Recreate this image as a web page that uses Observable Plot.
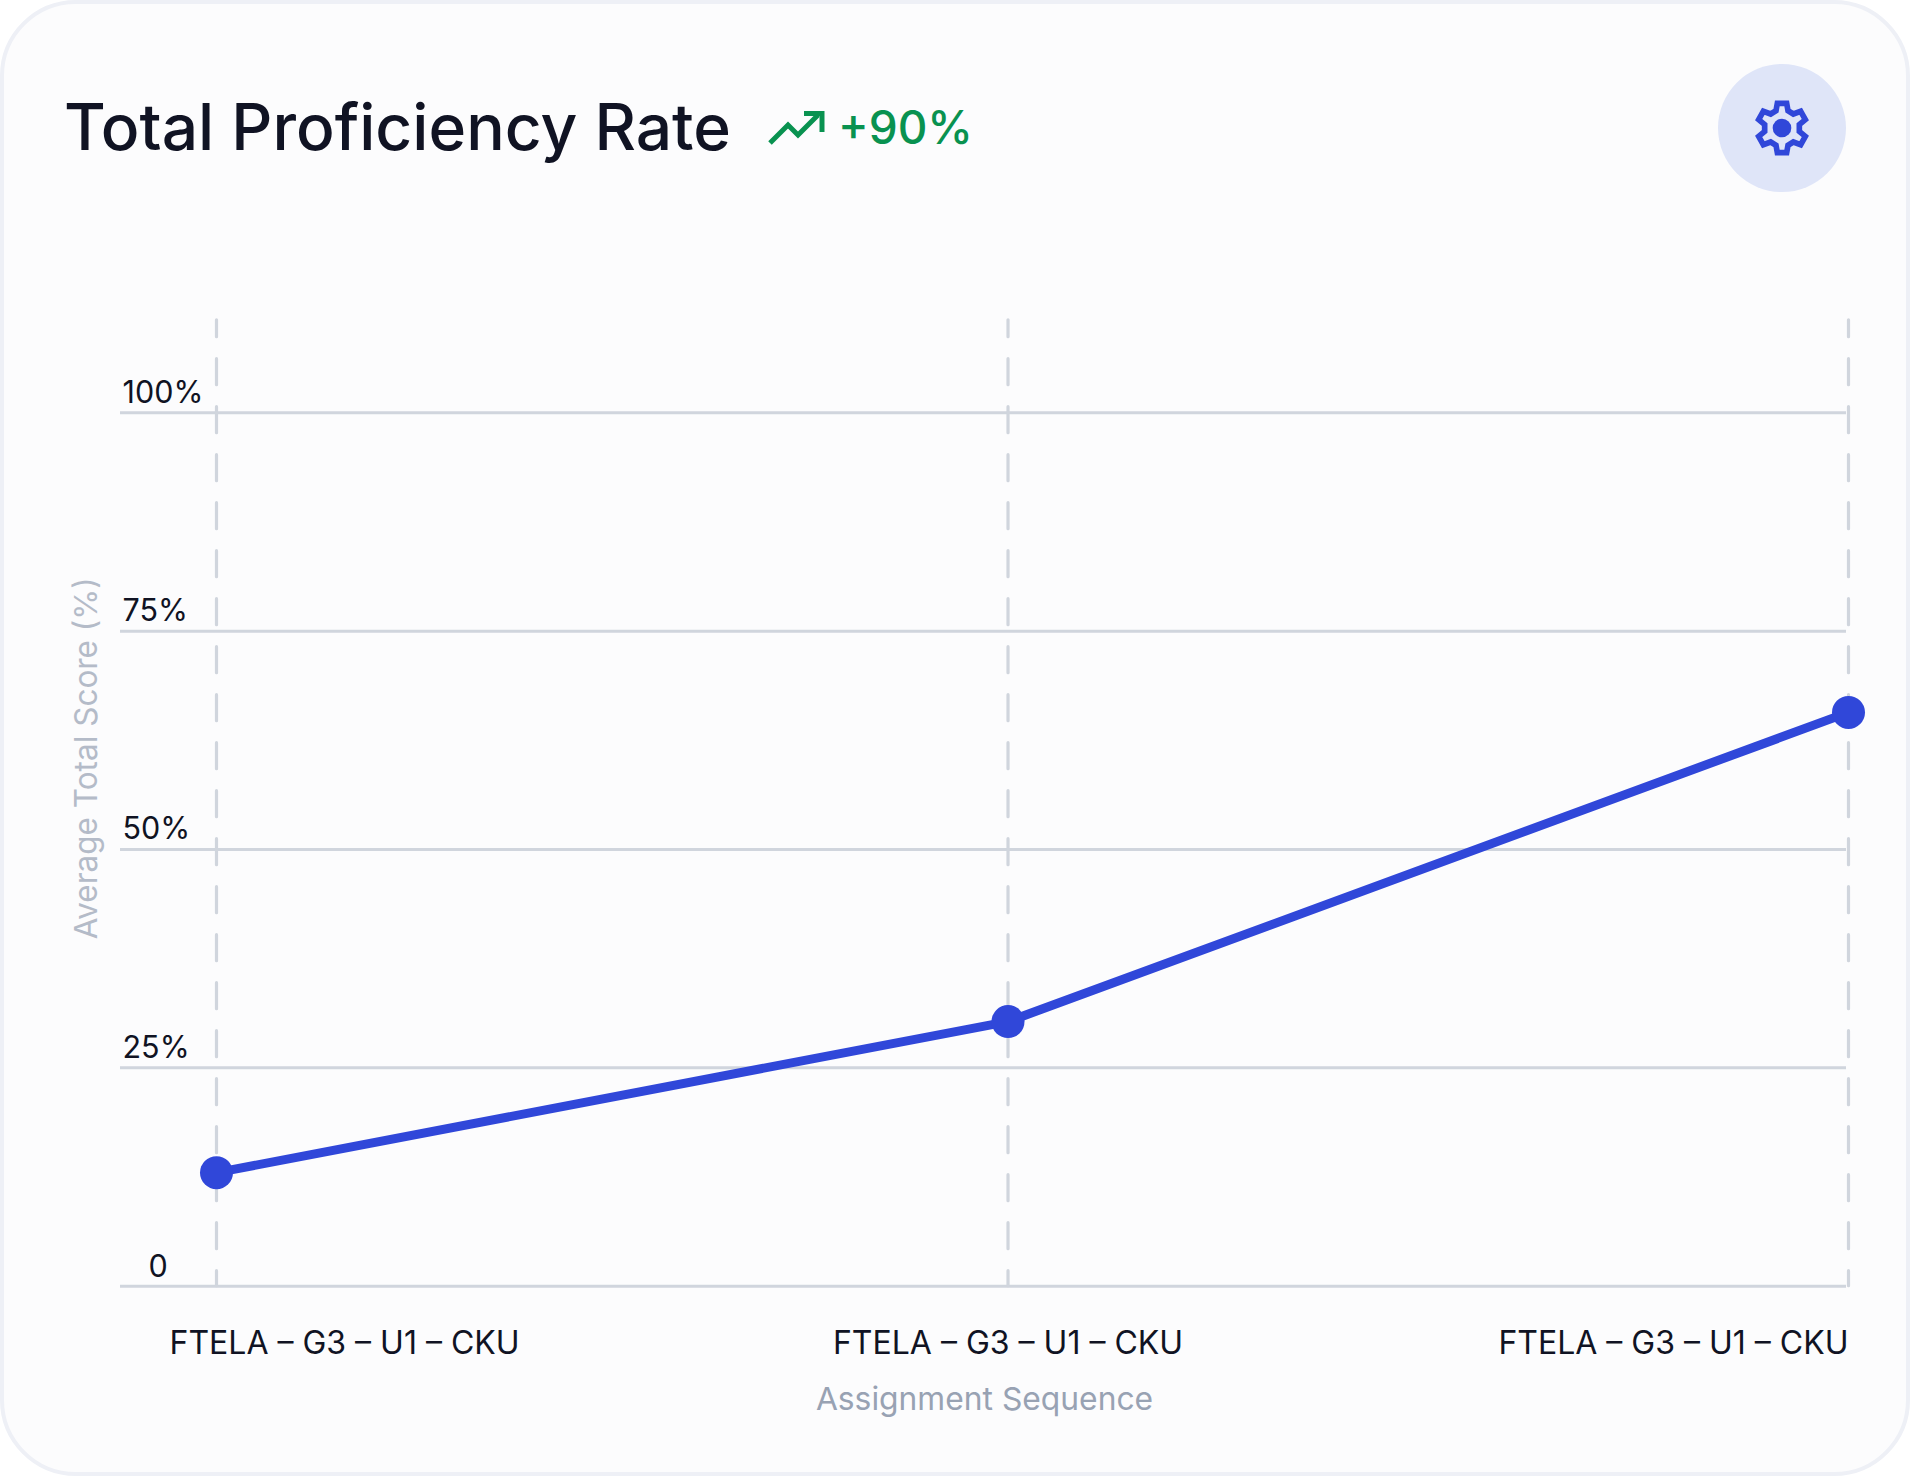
<!DOCTYPE html>
<html><head><meta charset="utf-8">
<script src="https://cdn.jsdelivr.net/npm/d3@7"></script>
<script src="https://cdn.jsdelivr.net/npm/@observablehq/plot@0.6"></script>
<style>
html,body{margin:0;padding:0;background:#fff;}
body{width:1910px;height:1476px;font-family:Inter,sans-serif;}
#card{position:relative;box-sizing:border-box;width:1910px;height:1476px;background:#fcfcfd;border:4px solid #eef0f6;border-radius:76px;overflow:hidden;}
#head{position:absolute;left:0;top:0;width:1902px;height:250px;}
#title{position:absolute;left:60px;top:84px;font-size:64.1px;line-height:78px;font-weight:500;color:#101323;white-space:nowrap;}
#trend{position:absolute;left:761px;top:104px;}
#delta{position:absolute;left:834px;top:95px;font-size:46px;line-height:56px;font-weight:500;color:#099250;white-space:nowrap;}
#btn{position:absolute;left:1714px;top:60px;width:128px;height:128px;border-radius:50%;background:#dfe5f8;display:flex;align-items:center;justify-content:center;}
#chart{position:absolute;left:-4px;top:246px;width:1910px;}
#chart svg{display:block;overflow:visible;max-width:none;}
</style></head>
<body>
<div id="card">
  <div id="head">
    <div id="title">Total Proficiency Rate</div>
    <svg id="trend" width="64" height="44" viewBox="0 0 64 44" fill="none" stroke="#099250" stroke-width="5">
      <polyline points="5,35 23,17 33,27 53,7"/>
      <polyline points="39,5.5 57,5.5 57,24"/>
    </svg>
    <div id="delta">+90%</div>
    <div id="btn">
      <svg width="60" height="60" viewBox="-90 -90 180 180">
        <polygon points="-14,-74 14,-74 18,-52 34,-42 56,-50 70,-25 52,-10 52,10 70,25 56,50 34,42 18,52 14,74 -14,74 -18,52 -34,42 -56,50 -70,25 -52,10 -52,-10 -70,-25 -56,-50 -34,-42 -18,-52" fill="none" stroke="#3047d9" stroke-width="17" stroke-linejoin="miter"/>
        <circle r="28" fill="#3047d9"/>
      </svg>
    </div>
  </div>
  <div id="chart"></div>
</div>
<script>
const categories = ["FTELA – G3 – U1 – CKU", "FTELA – G3 – U1 – CKU", "FTELA – G3 – U1 – CKU"];
const sequencePosition = [0, 0.485, 1];
const scores = [13.0, 30.3, 65.7];
const yTicks = [0, 25, 50, 75, 100];
const yTickLabels = ["0", "25%", "50%", "75%", "100%"];
const points = categories.map((c, i) => ({c, x: sequencePosition[i], y: scores[i]}));
const tickRows = yTicks.map((y, i) => ({y, label: yTickLabels[i]}));

const ink = "#101323", grid = "#d0d5dd", blue = "#3047d9", muted = "#98a2b3";
const W = 1910, H = 1230;
const font = "Inter, sans-serif";
const fs = 32;
const tickFs = 30.5;

const chart = Plot.plot({
  width: W, height: H,
  marginTop: 68, marginBottom: 194.3, marginLeft: 216, marginRight: 62,
  x: {domain: [0, 1], axis: null},
  y: {domain: [0, 110.8], axis: null},
  style: {background: "transparent", fontFamily: font, overflow: "visible"},
  marks: [
    Plot.ruleY(yTicks, {y: d => d, stroke: grid, strokeWidth: 3, insetLeft: -96, insetRight: 2}),
    Plot.ruleX(sequencePosition, {x: d => d, y1: 0, y2: 110.6, stroke: grid, strokeWidth: 3.2,
      strokeDasharray: "26 22", strokeDashoffset: 11, strokeLinecap: "round"}),
    Plot.line(points, {x: "x", y: "y", stroke: blue, strokeWidth: 9}),
    Plot.dot(points, {x: "x", y: "y", r: 16.5, fill: blue}),
    Plot.text(tickRows.filter(d => d.y > 0), {y: "y", text: "label", frameAnchor: "left", textAnchor: "start", dx: -94, dy: -20, fontSize: tickFs, fill: ink}),
    Plot.text(tickRows.filter(d => d.y === 0), {y: "y", text: "label", frameAnchor: "left", textAnchor: "start", dx: -68, dy: -19, fontSize: tickFs, fill: ink}),
    Plot.text(points.slice(0, 1), {x: "x", text: "c", frameAnchor: "bottom", textAnchor: "start", dx: -47, dy: 57.5, fontSize: fs, fill: ink, lineAnchor: "middle"}),
    Plot.text(points.slice(1, 2), {x: "x", text: "c", frameAnchor: "bottom", textAnchor: "middle", dy: 57.5, fontSize: fs, fill: ink, lineAnchor: "middle"}),
    Plot.text(points.slice(2, 3), {x: "x", text: "c", frameAnchor: "bottom", textAnchor: "end", dy: 57.5, fontSize: fs, fill: ink, lineAnchor: "middle"}),
    Plot.text(["Assignment Sequence"], {text: d => d, frameAnchor: "bottom", dx: -48, dy: 113.5, fontSize: 31.8, fill: muted, lineAnchor: "middle"}),
    Plot.text(["Average Total Score (%)"], {text: d => d, frameAnchor: "left", rotate: -90, dx: -130, dy: 137, fontSize: 31.5, fill: "#b4bbc8", lineAnchor: "middle"})
  ]
});
document.getElementById("chart").appendChild(chart);
</script>
</body></html>
